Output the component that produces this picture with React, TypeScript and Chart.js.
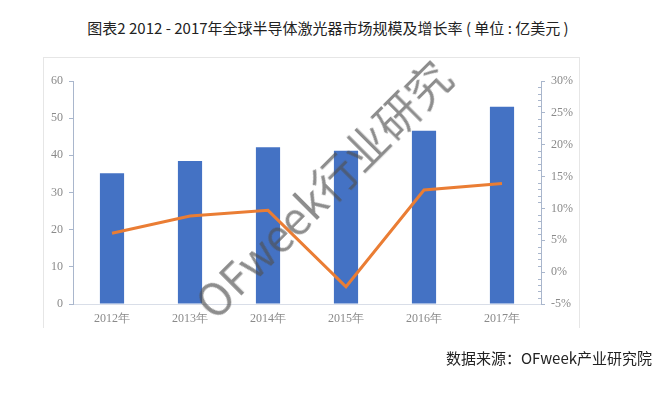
import React, { useEffect, useRef } from "react";
import { Chart, registerables } from "chart.js";

Chart.register(...registerables);

// Market size (100M USD) and year-over-year growth rate (%)
const years = ["2012年", "2013年", "2014年", "2015年", "2016年", "2017年"];
const marketSize = [35.2, 38.5, 42.2, 41.2, 46.6, 53.1];
const growthRate = [6.1, 8.8, 9.7, -2.3, 12.9, 13.9];

const leftTicks = [0, 10, 20, 30, 40, 50, 60];
const rightTicks = [-5, 0, 5, 10, 15, 20, 25, 30];

const TICK_FONT = { family: '"Liberation Serif", "DejaVu Serif", serif', size: 12 };
const TICK_COLOR = "#8a8a8a";
const AXIS_COLOR = "#a9b6cc";

// Small 1% minor ticks along the growth-rate axis
const minorTicks = {
  id: "minorTicks",
  afterDatasetsDraw(chart: any) {
    const s = chart.scales.y1;
    const ctx = chart.ctx;
    ctx.save();
    ctx.strokeStyle = AXIS_COLOR;
    ctx.lineWidth = 1;
    for (let v = -5; v <= 30; v += 1) {
      if (v % 5 === 0) continue;
      const y = Math.round(s.getPixelForValue(v)) + 0.5;
      ctx.beginPath();
      ctx.moveTo(s.left - 3, y);
      ctx.lineTo(s.left, y);
      ctx.stroke();
    }
    ctx.restore();
  },
};

export default function App() {
  const ref = useRef<HTMLCanvasElement>(null);

  useEffect(() => {
    if (!ref.current) return;
    const chart = new Chart(ref.current, {
      type: "bar",
      data: {
        labels: years,
        datasets: [
          {
            type: "line",
            label: "增长率",
            data: growthRate,
            yAxisID: "y1",
            borderColor: "#EA7D34",
            borderWidth: 3,
            pointRadius: 0,
            tension: 0,
            order: 0,
          },
          {
            type: "bar",
            label: "市场规模",
            data: marketSize,
            yAxisID: "y",
            backgroundColor: "#4472C4",
            barPercentage: 0.62,
            categoryPercentage: 0.5,
            order: 1,
          },
        ],
      },
      options: {
        responsive: false,
        animation: false,
        layout: { padding: { top: 81, left: 0, right: 0, bottom: 0 } },
        plugins: { legend: { display: false }, tooltip: { enabled: false } },
        scales: {
          x: {
            grid: { display: false, drawTicks: false },
            border: { display: true, color: "#d9dee8", width: 1 },
            ticks: { font: TICK_FONT, color: TICK_COLOR, padding: 8 },
            afterFit: (s: any) => {
              s.height = 96;
            },
          },
          y: {
            position: "left",
            min: 0,
            max: 60,
            afterBuildTicks: (s: any) => {
              s.ticks = leftTicks.map((v) => ({ value: v }));
            },
            grid: { drawOnChartArea: false, drawTicks: true, tickLength: 4, color: AXIS_COLOR },
            border: { display: true, color: AXIS_COLOR, width: 1 },
            ticks: { font: TICK_FONT, color: TICK_COLOR, padding: 6 },
            afterFit: (s: any) => {
              s.width = 73;
            },
          },
          y1: {
            position: "right",
            min: -5,
            max: 30,
            afterBuildTicks: (s: any) => {
              s.ticks = rightTicks.map((v) => ({ value: v }));
            },
            grid: { drawOnChartArea: false, drawTicks: true, tickLength: 4, color: AXIS_COLOR },
            border: { display: true, color: AXIS_COLOR, width: 1 },
            ticks: {
              font: TICK_FONT,
              color: TICK_COLOR,
              padding: 6,
              callback: (v: any) => `${v}%`,
            },
            afterFit: (s: any) => {
              s.width = 127;
            },
          },
        },
      },
      plugins: [minorTicks],
    });
    return () => chart.destroy();
  }, []);

  return (
    <div
      style={{
        position: "fixed",
        left: 0,
        top: 0,
        width: 668,
        height: 400,
        background: "#fff",
        overflow: "hidden",
        fontFamily: '"Noto Sans CJK SC", "Noto Sans", sans-serif',
      }}
    >
      <div
        style={{
          position: "absolute",
          left: 0,
          width: 656,
          top: 18,
          textAlign: "center",
          fontSize: 15,
          color: "#222",
          whiteSpace: "nowrap",
          lineHeight: "20px",
        }}
      >
        图表2 2012 - 2017年全球半导体激光器市场规模及增长率 ( 单位 : 亿美元 )
      </div>
      <div
        style={{
          position: "absolute",
          left: 43,
          top: 57,
          width: 535,
          height: 270,
          borderTop: "1px solid #e6e6e6",
          borderLeft: "1px solid #e6e6e6",
          borderRight: "1px solid #e6e6e6",
        }}
      />
      <canvas ref={ref} width={668} height={400} style={{ position: "absolute", left: 0, top: 0 }} />
      <div
        style={{
          position: "absolute",
          left: 322,
          top: 188,
          transform: "translate(-50%, -50%) rotate(-45deg)",
          fontSize: 44,
          fontWeight: 400,
          color: "rgba(80, 80, 80, 0.65)",
          whiteSpace: "nowrap",
          lineHeight: 1,
          pointerEvents: "none",
        }}
      >
        OFweek行业研究
      </div>
      <div
        style={{
          position: "absolute",
          right: 16,
          top: 348,
          fontSize: 15,
          color: "#222",
          whiteSpace: "nowrap",
          lineHeight: "20px",
        }}
      >
        数据来源：OFweek产业研究院
      </div>
    </div>
  );
}
